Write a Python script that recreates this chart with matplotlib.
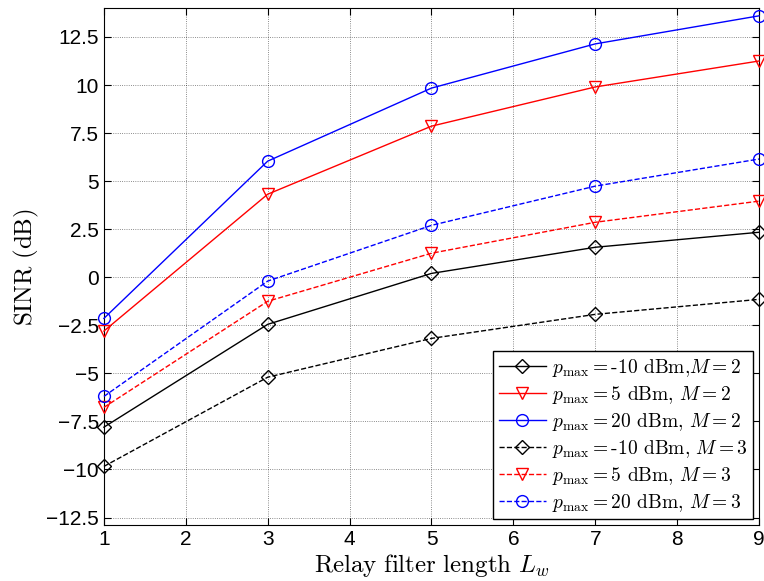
import matplotlib
matplotlib.use("Agg")
import matplotlib.pyplot as plt

plt.rcParams['font.family'] = ['Liberation Sans', 'DejaVu Sans']
plt.rcParams['mathtext.fontset'] = 'cm'

# filter lengths
Lw = [1, 3, 5, 7, 9]

# SINR (dB)
m2_n10 = [-7.8, -2.45, 0.2, 1.56, 2.34]
m2_p5 = [-2.8, 4.32, 7.86, 9.9, 11.25]
m2_p20 = [-2.14, 6.04, 9.84, 12.14, 13.6]
m3_n10 = [-9.84, -5.2, -3.18, -1.93, -1.15]
m3_p5 = [-6.77, -1.25, 1.25, 2.86, 3.96]
m3_p20 = [-6.2, -0.2, 2.7, 4.74, 6.15]

labels = [r'$p_{\max} = $-10 dBm,$M = 2$',
          r'$p_{\max} = $5 dBm, $M = 2$',
          r'$p_{\max} = $20 dBm, $M = 2$',
          r'$p_{\max} = $-10 dBm, $M = 3$',
          r'$p_{\max} = $5 dBm, $M = 3$',
          r'$p_{\max} = $20 dBm, $M = 3$']
yticks = [-12.5, -10, -7.5, -5, -2.5, 0, 2.5, 5, 7.5, 10, 12.5]
ytick_labels = ['\u221212.5', '\u221210', '\u22127.5', '\u22125', '\u22122.5',
                '0', '2.5', '5', '7.5', '10', '12.5']

fig = plt.figure(figsize=(7.64, 5.81), dpi=100)
ax = fig.add_axes([0.136, 0.096, 0.8575, 0.89])

series = [m2_n10, m2_p5, m2_p20, m3_n10, m3_p5, m3_p20]
colors = ['k', 'r', 'b', 'k', 'r', 'b']
markers = ['D', 'v', 'o', 'D', 'v', 'o']
sizes = [7.5, 9, 8.5, 7.5, 9, 8.5]
styles = ['-', '-', '-', '--', '--', '--']
for y, c, m, ms, s, lab in zip(series, colors, markers, sizes, styles, labels):
    ax.plot(Lw, y, color=c, linestyle=s, marker=m, markersize=ms,
            markerfacecolor='none', markeredgecolor=c, linewidth=1.0,
            label=lab, clip_on=False, zorder=3)

ax.set_xlim(1, 9)
ax.set_ylim(-12.9, 14)
ax.set_yticks(yticks)
ax.set_yticklabels(ytick_labels)
ax.set_xticks(range(1, 10))
ax.tick_params(direction='in', labelsize=15, top=True, right=True, length=5)
ax.grid(True, linestyle=':', color='k', linewidth=0.6, alpha=0.6)
ax.set_xlabel(r'$\mathrm{Relay\ filter\ length}\ L_w$', fontsize=18, labelpad=2)
ax.set_ylabel(r'$\mathrm{SINR\ (dB)}$', fontsize=18, labelpad=4)

leg = ax.legend(loc='lower right', prop={'family': 'cmr10', 'size': 14},
                fancybox=False, framealpha=1, edgecolor='k',
                borderaxespad=0.3, handlelength=2.4, borderpad=0.3,
                labelspacing=0.25, handletextpad=0.3)
leg.get_frame().set_linewidth(1.0)

fig.savefig('out.png', dpi=100)
